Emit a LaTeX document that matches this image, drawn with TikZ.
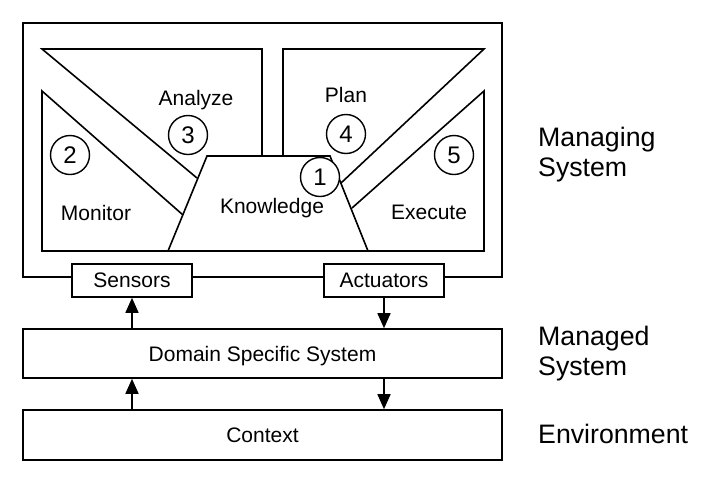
\documentclass[tikz,border=0pt]{standalone}
\usepackage{fontspec}
\setmainfont{Liberation Sans}
\usetikzlibrary{arrows.meta,calc}
\tikzset{
  ln/.style={line width=1.6pt, line join=miter},
  lbl/.style={inner sep=0pt, text depth=0pt, font=\fontsize{21}{25}\selectfont},
  side/.style={inner sep=0pt, anchor=west, align=left, font=\fontsize{26.7}{30}\selectfont},
  num/.style={circle, draw, line width=1.4pt, fill=white, minimum size=39pt, inner sep=0pt, font=\fontsize{24}{26}\selectfont},
  box/.style={draw, line width=1.6pt, fill=white, rectangle, inner sep=0pt, text depth=0pt, font=\fontsize{21}{25}\selectfont},
  arr/.style={line width=1.6pt, -{Triangle[length=15pt,width=13pt]}}
}
\begin{document}
\begin{tikzpicture}[x=1pt,y=-1pt]
\useasboundingbox (0,0) rectangle (714,485);
% outer managing system box
\draw[ln] (23,23) rectangle (502,277);
% knowledge trapezoid corners
\coordinate (kbl) at (168,251);
\coordinate (kbr) at (368,251);
\coordinate (ktl) at (207,156);
\coordinate (ktr) at (330,156);
% Analyze
\draw[ln] (197,178) -- (42,49) -- (262,49) -- (262,156);
% Plan
\draw[ln] (283,156) -- (283,49) -- (484,49) -- (341,183);
% Monitor
\draw[ln] (183,215) -- (42,91) -- (42,251) -- (kbl);
% Execute
\draw[ln] (352,208) -- (484,91) -- (484,251) -- (kbr);
% Knowledge
\draw[ln, fill=white] (kbl) -- (ktl) -- (ktr) -- (kbr) -- cycle;
% labels
\node[lbl] (tAna) at (196,98) {Analyze};
\node[lbl] (tPlan) at (346,95) {Plan};
\node[lbl] (tMon) at (96,212.5) {Monitor};
\node[lbl] (tKno) at (272,206) {Knowledge};
\node[lbl] (tExe) at (429,212.5) {Execute};
% numbered circles
\node[num] (c1) at (320,177) {1};
\node[num] (c2) at (70,155) {2};
\node[num] (c3) at (188,135) {3};
\node[num] (c4) at (346,134) {4};
\node[num] (c5) at (454,155) {5};
% sensors / actuators
\node[box, minimum width=120pt, minimum height=33pt] (sens) at (132,280.5) {Sensors};
\node[box, minimum width=120pt, minimum height=33pt] (act) at (384,280.5) {Actuators};
% managed system and context
\node[box, minimum width=479pt, minimum height=49pt] (dss) at (262.5,353.5) {Domain Specific System};
\node[box, minimum width=479pt, minimum height=50pt] (ctx) at (262.5,435) {Context};
% arrows
\draw[arr] (sens.south |- dss.north) -- (sens.south);
\draw[arr] (act.south) -- (act.south |- dss.north);
\draw[arr] (sens.south |- ctx.north) -- (sens.south |- dss.south);
\draw[arr] (act.south |- dss.south) -- (act.south |- ctx.north);
% side labels
\node[side] (lMgng) at (538,155) {Managing\\System};
\node[side] (lMgd) at (538,354) {Managed\\System};
\node[side, text depth=0pt] (lEnv) at (538,434) {Environment};
\end{tikzpicture}
\end{document}
